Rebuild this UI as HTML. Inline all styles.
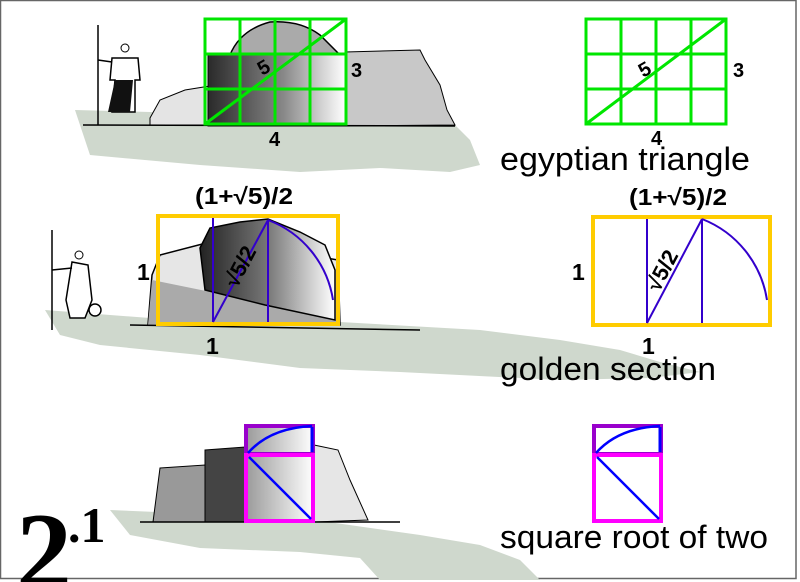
<!DOCTYPE html>
<html><head><meta charset="utf-8"><style>
html,body{margin:0;padding:0;background:#fff;width:800px;height:582px;overflow:hidden}
svg{display:block;overflow:hidden}
text{font-family:"Liberation Sans",sans-serif}
text.serif{font-family:"Liberation Serif",serif;font-weight:bold}
</style></head><body>
<svg width="800" height="582" viewBox="0 0 800 582" xmlns="http://www.w3.org/2000/svg">
<defs>
<linearGradient id="dk" x1="0" x2="1" y1="0" y2="0"><stop offset="0" stop-color="#2a2a2a"/><stop offset="0.55" stop-color="#888"/><stop offset="1" stop-color="#fff"/></linearGradient>
<linearGradient id="dk2" x1="0" x2="1" y1="0" y2="0"><stop offset="0" stop-color="#222"/><stop offset="0.5" stop-color="#777"/><stop offset="1" stop-color="#fff"/></linearGradient>
<linearGradient id="dk3" x1="0" x2="1" y1="0" y2="0"><stop offset="0" stop-color="#999"/><stop offset="1" stop-color="#fff"/></linearGradient>
<clipPath id="frame"><rect x="0" y="0" width="800" height="582"/></clipPath>
</defs>
<g clip-path="url(#frame)">
<rect x="0.5" y="0.5" width="795.5" height="578" fill="#fff" stroke="#666" stroke-width="1.5"/>

<!-- TOP ROW -->
<polygon points="75,110 150,112 300,120 455,125 470,140 480,165 450,172 380,168 300,172 200,165 90,155" fill="#cfd8cd"/>
<polygon points="345,52 420,50 425,60 440,85 447,110 455,125 345,126" fill="#c8c8c8" stroke="#000" stroke-width="1"/>
<polygon points="150,118 160,100 185,90 210,86 210,125 150,125" fill="#e4e4e4" stroke="#000" stroke-width="1"/>
<path d="M230,55 Q240,30 270,22 Q300,20 320,35 L340,55 Z" fill="#aaa" stroke="#000" stroke-width="1.5"/>
<rect x="208" y="54" width="137" height="72" fill="url(#dk)" stroke="#000" stroke-width="1"/>
<line x1="83" y1="125" x2="455" y2="126" stroke="#000" stroke-width="1.5"/>
<line x1="98" y1="25" x2="98" y2="125" stroke="#000" stroke-width="1.5"/>
<circle cx="125" cy="48" r="4" fill="#fff" stroke="#000"/>
<path d="M112,58 L138,58 L140,80 L135,80 L135,112 L112,112 L115,80 L110,80 Z" fill="#fff" stroke="#000" stroke-width="1.5"/>
<polygon points="115,80 133,80 130,112 108,112" fill="#111"/>
<line x1="98" y1="60" x2="112" y2="62" stroke="#000" stroke-width="1.5"/>
<g stroke="#00e600" stroke-width="3" fill="none">
<rect x="205" y="19" width="141" height="105"/>
<line x1="240" y1="19" x2="240" y2="124"/><line x1="275" y1="19" x2="275" y2="124"/><line x1="310" y1="19" x2="310" y2="124"/>
<line x1="205" y1="54" x2="346" y2="54"/><line x1="205" y1="89" x2="346" y2="89"/>
<line x1="205" y1="124" x2="346" y2="19"/>
</g>
<text x="258" y="74" font-size="20" font-weight="bold" transform="rotate(-30 264 67)">5</text>
<text x="351" y="77" font-size="20" font-weight="bold">3</text>
<text x="269" y="146" font-size="20" font-weight="bold">4</text>
<g stroke="#00e600" stroke-width="3" fill="none">
<rect x="586" y="19" width="140" height="105"/>
<line x1="621" y1="19" x2="621" y2="124"/><line x1="656" y1="19" x2="656" y2="124"/><line x1="691" y1="19" x2="691" y2="124"/>
<line x1="586" y1="54" x2="726" y2="54"/><line x1="586" y1="89" x2="726" y2="89"/>
<line x1="586" y1="124" x2="726" y2="19"/>
</g>
<text x="639" y="76" font-size="20" font-weight="bold" transform="rotate(-30 645 69)">5</text>
<text x="733" y="77" font-size="20" font-weight="bold">3</text>
<text x="651" y="145" font-size="20" font-weight="bold">4</text>
<text x="500" y="170" font-size="32" textLength="250" lengthAdjust="spacingAndGlyphs">egyptian triangle</text>

<!-- MIDDLE ROW -->
<polygon points="45,310 150,318 340,322 480,330 560,340 620,350 660,362 700,372 650,378 560,380 400,372 300,368 200,355 100,345 60,335" fill="#cfd8cd"/>
<path d="M148,325 L152,275 L160,255 L210,242 L250,245 L338,260 L340,325 Z" fill="#e6e6e6" stroke="#000" stroke-width="1.5"/>
<path d="M152,280 L250,300 L338,320 L338,325 L148,325 Z" fill="#aaa"/>
<path d="M200,248 L210,228 L240,222 L268,219 L300,232 L325,245 L335,270 L335,320 L265,305 L205,290 Z" fill="url(#dk2)" stroke="#000" stroke-width="1.5"/>
<line x1="130" y1="325" x2="420" y2="330" stroke="#000" stroke-width="1.5"/>
<line x1="52" y1="230" x2="52" y2="330" stroke="#000" stroke-width="1.5"/>
<circle cx="79" cy="255" r="4" fill="#fff" stroke="#000"/>
<path d="M72,262 L88,265 L92,300 L85,318 L70,318 L66,300 Z" fill="#fff" stroke="#000" stroke-width="1.5"/>
<line x1="52" y1="270" x2="72" y2="268" stroke="#000" stroke-width="1.5"/>
<circle cx="95" cy="310" r="6" fill="#fff" stroke="#000" stroke-width="1.5"/>
<rect x="158" y="216" width="180" height="108" fill="none" stroke="#ffcc00" stroke-width="4"/>
<g stroke="#3300cc" stroke-width="2" fill="none">
<line x1="213" y1="218" x2="213" y2="322"/><line x1="268" y1="220" x2="268" y2="322"/>
<line x1="213" y1="322" x2="268" y2="220"/>
<path d="M268,220 A102,102 0 0 1 333,300"/>
</g>
<text x="195" y="204" font-size="23" font-weight="bold" textLength="98" lengthAdjust="spacingAndGlyphs">(1+√5)/2</text>
<text x="137" y="280" font-size="23" font-weight="bold">1</text>
<text x="206" y="354" font-size="23" font-weight="bold">1</text>
<text x="222" y="288" font-size="22" font-weight="bold" transform="rotate(-62 230 276)">√5/2</text>
<rect x="593" y="217" width="177" height="108" fill="none" stroke="#ffcc00" stroke-width="4"/>
<g stroke="#3300cc" stroke-width="2" fill="none">
<line x1="647" y1="219" x2="647" y2="323"/><line x1="702" y1="219" x2="702" y2="323"/>
<line x1="647" y1="323" x2="702" y2="219"/>
<path d="M702,219 A104,104 0 0 1 767,300"/>
</g>
<text x="629" y="205" font-size="23" font-weight="bold" textLength="98" lengthAdjust="spacingAndGlyphs">(1+√5)/2</text>
<text x="572" y="280" font-size="23" font-weight="bold">1</text>
<text x="642" y="354" font-size="23" font-weight="bold">1</text>
<text x="644" y="292" font-size="22" font-weight="bold" transform="rotate(-62 652 280)">√5/2</text>
<text x="500" y="380" font-size="32" textLength="216" lengthAdjust="spacingAndGlyphs">golden section</text>

<!-- BOTTOM ROW -->
<polygon points="110,510 300,518 420,535 480,545 520,560 540,580 380,580 360,558 300,552 200,548 130,535" fill="#cfd8cd"/>
<polygon points="160,468 205,465 205,522 153,522" fill="#999" stroke="#000" stroke-width="1"/>
<polygon points="205,450 245,447 245,522 205,522" fill="#444" stroke="#000" stroke-width="1"/>
<polygon points="314,445 338,450 350,480 368,520 314,522" fill="#e6e6e6" stroke="#000" stroke-width="1"/>
<rect x="245" y="425" width="69" height="97" fill="url(#dk3)"/>
<line x1="140" y1="522" x2="400" y2="522" stroke="#000" stroke-width="1.5"/>
<g fill="none">
<rect x="246" y="426" width="67" height="28" stroke="#9900cc" stroke-width="4"/>
<rect x="246" y="455" width="67" height="66" stroke="#ff00ff" stroke-width="4"/>
<path d="M248,453 Q270,428 312,426" stroke="#0000ff" stroke-width="2.5"/>
<line x1="312" y1="427" x2="312" y2="452" stroke="#0000ff" stroke-width="3"/>
<line x1="249" y1="457" x2="311" y2="519" stroke="#0000ff" stroke-width="2.5"/>
</g>
<g fill="none">
<rect x="594" y="426" width="67" height="28" stroke="#9900cc" stroke-width="4"/>
<rect x="594" y="455" width="67" height="66" stroke="#ff00ff" stroke-width="4"/>
<path d="M596,453 Q618,428 660,426" stroke="#0000ff" stroke-width="2.5"/>
<line x1="660" y1="427" x2="660" y2="452" stroke="#0000ff" stroke-width="3"/>
<line x1="597" y1="457" x2="659" y2="519" stroke="#0000ff" stroke-width="2.5"/>
</g>
<text x="500" y="548" font-size="32" textLength="268" lengthAdjust="spacingAndGlyphs">square root of two</text>
<text class="serif" x="16" y="590" font-size="112">2</text>
<text class="serif" x="68" y="542" font-size="50">.1</text>
</g>
</svg>
</body></html>
